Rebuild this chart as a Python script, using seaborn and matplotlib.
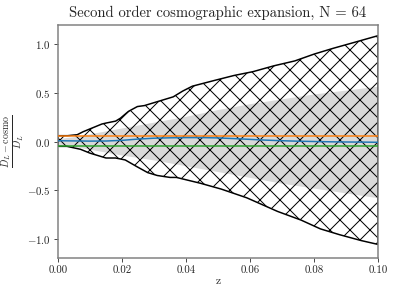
import numpy as np
import pandas as pd
import matplotlib
matplotlib.use('Agg')
import matplotlib.pyplot as plt
import seaborn as sns

# redshift samples for the envelopes
z_upper = [0.0, 0.003, 0.006, 0.0078, 0.010, 0.0137, 0.015, 0.018, 0.0195, 0.022, 0.0248,
           0.027, 0.032, 0.036, 0.039, 0.042, 0.049, 0.055, 0.061, 0.0675, 0.074, 0.080,
           0.086, 0.0925, 0.100]
hatch_upper = [0.06, 0.06, 0.07, 0.10, 0.13, 0.18, 0.19, 0.21, 0.24, 0.31, 0.36,
               0.37, 0.42, 0.46, 0.52, 0.57, 0.63, 0.68, 0.72, 0.78, 0.83, 0.90,
               0.96, 1.02, 1.09]

z_lower = [0.0, 0.0028, 0.007, 0.010, 0.015, 0.018, 0.021, 0.0247, 0.028, 0.031, 0.035,
           0.037, 0.0445, 0.051, 0.059, 0.0686, 0.076, 0.082, 0.088, 0.0947, 0.100]
hatch_lower = [-0.05, -0.05, -0.08, -0.12, -0.17, -0.17, -0.19, -0.26, -0.32, -0.35, -0.37,
               -0.37, -0.43, -0.49, -0.58, -0.72, -0.81, -0.90, -0.96, -1.02, -1.06]

# grey band
z_band = [0.0, 0.005, 0.010, 0.015, 0.020, 0.030, 0.040, 0.050, 0.060, 0.070, 0.080, 0.090, 0.100]
band_upper = [0.03, 0.05, 0.08, 0.11, 0.14, 0.20, 0.26, 0.33, 0.39, 0.44, 0.49, 0.53, 0.57]
band_lower = [-0.03, -0.05, -0.08, -0.11, -0.14, -0.19, -0.25, -0.31, -0.37, -0.43, -0.48, -0.53, -0.58]

# lines
z_line = [0.0, 0.005, 0.010, 0.015, 0.020, 0.025, 0.030, 0.035, 0.040, 0.045, 0.050,
          0.055, 0.060, 0.065, 0.070, 0.075, 0.080, 0.085, 0.090, 0.095, 0.100]
blue_line = [0.008, 0.006, 0.004, 0.005, 0.012, 0.025, 0.034, 0.038, 0.040, 0.040, 0.037,
             0.030, 0.022, 0.014, 0.008, 0.003, 0.000, -0.003, -0.005, -0.006, -0.008]
orange_level = 0.055
green_level = -0.045

sns.set_theme(style='ticks')
plt.rcParams['font.family'] = ['cmr10', 'DejaVu Serif']
plt.rcParams['mathtext.fontset'] = 'cm'
plt.rcParams['axes.formatter.use_mathtext'] = True
plt.rcParams['hatch.linewidth'] = 0.6

fig = plt.figure(figsize=(3.3, 2.475), dpi=120)
ax = fig.add_axes([0.1465, 0.1313, 0.808, 0.7845])

ax.fill_between(z_band, band_lower, band_upper, color='#d9d9d9', linewidth=0, zorder=1)

zz = np.union1d(z_upper, z_lower)
up = np.interp(zz, z_upper, hatch_upper)
lo = np.interp(zz, z_lower, hatch_lower)
ax.fill_between(zz, lo, up, facecolor='none', edgecolor='black', hatch='xx',
                linewidth=0.9, zorder=2)

df = pd.DataFrame({'z': z_line, 'blue': blue_line,
                   'orange': [orange_level] * len(z_line),
                   'green': [green_level] * len(z_line)})
sns.lineplot(data=df, x='z', y='orange', color='tab:orange', lw=0.9, ax=ax, zorder=3)
sns.lineplot(data=df, x='z', y='green', color='tab:green', lw=0.9, ax=ax, zorder=3)
sns.lineplot(data=df, x='z', y='blue', color='tab:blue', lw=0.9, ax=ax, zorder=4)

ax.set_xlim(0, 0.1)
ax.set_ylim(-1.2, 1.2)
ax.set_xticks([0.0, 0.02, 0.04, 0.06, 0.08, 0.10])
ax.set_xticklabels(['0.00', '0.02', '0.04', '0.06', '0.08', '0.10'])
ax.set_yticks([-1.0, -0.5, 0.0, 0.5, 1.0])
ax.tick_params(labelsize=6.5, length=2.5, width=0.6, color='0.3', pad=2)

for s in ax.spines.values():
    s.set_color('0.5')
    s.set_linewidth(0.9)

ax.set_title('Second order cosmographic expansion, N = 64', fontsize=8.8, pad=5)
ax.set_xlabel('z', fontsize=7, labelpad=1)
ax.set_ylabel(r'$\frac{D_L - \mathrm{cosmo}}{D_L}$', fontsize=8.5, labelpad=0)

fig.savefig('out.png', dpi=120)
